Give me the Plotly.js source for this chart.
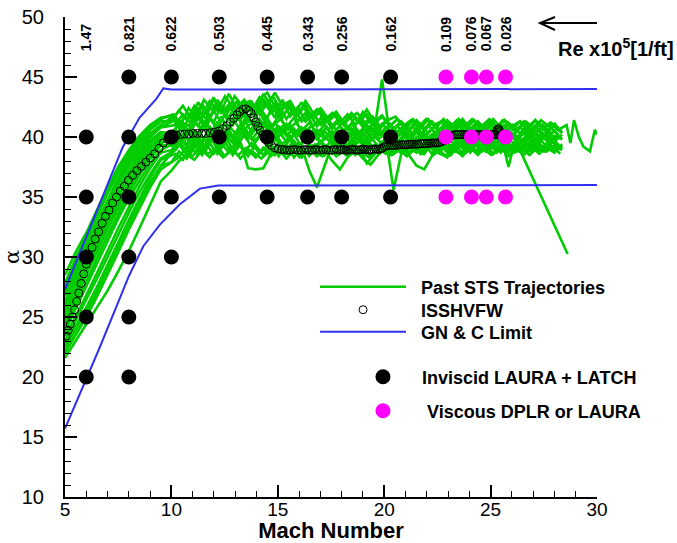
<!DOCTYPE html>
<html>
<head>
<meta charset="utf-8">
<script src="https://cdn.plot.ly/plotly-3.0.1.min.js"></script>
<style>
  html, body { margin: 0; padding: 0; background: #fff; }
  #chart { width: 677px; height: 543px; }
</style>
</head>
<body>
<div id="chart"></div>
<script>
// Mach stations used by the flight records
const machAscent = [5, 5.5, 6, 6.5, 7, 7.5, 8, 8.5, 9, 9.5];
const machGridA = [10, 10.36, 10.72, 11.08, 11.44, 11.8, 12.16, 12.52, 12.88, 13.24,
  13.6, 13.96, 14.32, 14.68, 15.04, 15.4, 15.76, 16.12, 16.48, 16.84,
  17.2, 17.56, 17.92, 18.28, 18.64, 19.0, 19.36, 19.72, 20.08, 20.44,
  20.8, 21.16, 21.52, 21.88, 22.24, 22.6, 22.96, 23.32, 23.68, 24.04,
  24.4, 24.76, 25.12, 25.48, 25.84, 26.2, 26.56, 26.92, 27.28, 27.64, 28.0, 28.36];
const machGridB = [10.18, 10.54, 10.9, 11.26, 11.62, 11.98, 12.34, 12.7, 13.06, 13.42,
  13.78, 14.14, 14.5, 14.86, 15.22, 15.58, 15.94, 16.3, 16.66, 17.02,
  17.38, 17.74, 18.1, 18.46, 18.82, 19.18, 19.54, 19.9, 20.26, 20.62,
  20.98, 21.34, 21.7, 22.06, 22.42, 22.78, 23.14, 23.5, 23.86, 24.22,
  24.58, 24.94, 25.3, 25.66, 26.02, 26.38, 26.74, 27.1, 27.46, 27.82, 28.18];
const machGridC = [10.09, 10.45, 10.81, 11.17, 11.53, 11.89, 12.25, 12.61, 12.97, 13.33,
  13.69, 14.05, 14.41, 14.77, 15.13, 15.49, 15.85, 16.21, 16.57, 16.93,
  17.29, 17.65, 18.01, 18.37, 18.73, 19.09, 19.45, 19.81, 20.17, 20.53,
  20.89, 21.25, 21.61, 21.97, 22.33, 22.69, 23.05, 23.41, 23.77, 24.13,
  24.49, 24.85, 25.21, 25.57, 25.93, 26.29, 26.65, 27.01, 27.37, 27.73, 28.09];
const machGridD = [10.27, 10.63, 10.99, 11.35, 11.71, 12.07, 12.43, 12.79, 13.15, 13.51,
  13.87, 14.23, 14.59, 14.95, 15.31, 15.67, 16.03, 16.39, 16.75, 17.11,
  17.47, 17.83, 18.19, 18.55, 18.91, 19.27, 19.63, 19.99, 20.35, 20.71,
  21.07, 21.43, 21.79, 22.15, 22.51, 22.87, 23.23, 23.59, 23.95, 24.31,
  24.67, 25.03, 25.39, 25.75, 26.11, 26.47, 26.83, 27.19, 27.55, 27.91, 28.27];

// Past STS angle-of-attack histories (ascent stations, then the grid)
const sts01 = [27.5, 29.6, 31.4, 33.4, 35.3, 37.0, 38.4, 39.6, 40.6, 41.3,
  41.3, 42.2, 41.4, 42.6, 41.8, 43.0, 42.2, 43.4, 42.5, 41.8,
  42.9, 42.0, 43.6, 42.6, 41.7, 42.8, 41.9, 42.9, 41.6, 42.3,
  41.4, 42.0, 41.2, 41.9, 41.0, 42.1, 41.2, 40.6, 41.4, 40.7,
  41.3, 40.6, 41.4, 40.7, 41.3, 40.6, 41.4, 40.8, 41.5, 40.7,
  41.3, 40.6, 41.5, 40.8, 41.2, 40.5, 41.3, 40.6, 41.2, 40.5, 41.1, 40.4];
const sts02 = [26.8, 28.9, 30.8, 32.7, 34.6, 36.3, 37.8, 39.0, 40.0, 40.8,
  41.0, 41.9, 41.2, 42.4, 41.5, 43.2, 42.1, 43.6, 42.4, 43.1,
  42.2, 43.3, 42.5, 43.7, 42.6, 43.0, 41.9, 42.6, 41.5, 42.2,
  41.3, 41.9, 41.0, 41.8, 41.2, 42.3, 41.3, 41.8, 40.9, 41.5,
  40.6, 41.4, 40.7, 41.5, 40.8, 41.4, 40.6, 41.5, 40.7, 41.4,
  40.6, 41.3, 40.7, 41.4, 40.6, 41.3, 40.5, 41.4, 40.6, 41.2, 40.7];
const sts03 = [26.0, 28.2, 30.3, 32.2, 34.0, 35.7, 37.2, 38.6, 39.7, 40.4,
  40.3, 41.1, 40.2, 41.3, 40.5, 41.6, 40.6, 42.0, 41.0, 42.2,
  41.3, 42.6, 41.5, 40.7, 41.8, 40.8, 41.6, 40.5, 41.2, 40.3,
  41.0, 40.2, 40.9, 40.1, 40.8, 40.0, 40.9, 40.1, 40.8, 40.0,
  40.7, 39.9, 40.8, 40.0, 40.7, 39.9, 40.6, 40.0, 40.8, 39.9,
  40.7, 40.0, 40.8, 39.9, 40.6, 39.8, 40.7, 40.0, 40.6, 39.9, 40.5, 39.8];
const sts04 = [25.3, 27.5, 29.6, 31.5, 33.3, 35.0, 36.6, 38.0, 39.2, 40.0,
  40.1, 41.0, 40.4, 41.6, 40.7, 42.2, 41.2, 42.7, 41.4, 42.0,
  41.1, 42.4, 41.6, 42.9, 41.8, 42.5, 41.3, 42.0, 40.9, 41.6,
  40.6, 41.3, 40.5, 41.1, 40.4, 41.0, 40.3, 41.1, 40.4, 40.9,
  40.2, 40.9, 40.1, 41.0, 40.3, 40.9, 40.2, 41.0, 40.2, 40.9,
  40.1, 40.8, 40.2, 40.9, 40.1, 40.8, 40.2, 40.9, 40.1, 40.8, 40.2];
const sts05 = [24.6, 26.8, 28.9, 30.8, 32.6, 34.3, 35.9, 37.4, 38.7, 39.6,
  39.6, 40.4, 39.3, 40.6, 39.5, 40.9, 39.8, 41.2, 40.0, 41.0,
  40.1, 41.3, 40.2, 39.4, 40.5, 39.6, 40.2, 39.2, 37.2, 35.8,
  37.6, 39.4, 40.0, 39.2, 40.1, 39.3, 40.0, 39.2, 39.9, 39.1,
  39.9, 39.2, 40.0, 39.1, 39.8, 39.2, 40.0, 39.3, 39.9, 39.1,
  39.8, 39.2, 40.0, 39.1, 39.9, 39.2, 39.8, 39.1, 39.9, 39.2, 39.7, 39.0];
const sts06 = [24.0, 26.0, 28.0, 29.9, 31.8, 33.6, 35.3, 36.8, 38.2, 39.3,
  39.3, 40.2, 39.5, 40.4, 39.6, 40.7, 39.8, 40.9, 40.2, 41.4,
  40.4, 41.5, 40.6, 41.2, 40.3, 41.0, 40.1, 40.7, 39.8, 40.5,
  39.7, 40.4, 39.6, 40.3, 39.7, 40.4, 40.6, 44.8, 40.2, 39.6,
  40.3, 39.5, 40.2, 39.6, 40.3, 39.5, 40.2, 39.6, 40.4, 39.5,
  40.2, 39.6, 40.3, 39.5, 40.1, 39.6, 40.2, 39.5, 40.3, 39.6, 40.1];
const sts07 = [23.4, 25.0, 26.8, 28.6, 30.5, 32.4, 34.2, 35.9, 37.4, 38.7,
  38.9, 39.8, 38.7, 39.9, 38.8, 40.1, 39.0, 40.2, 38.9, 39.6,
  37.4, 37.3, 37.4, 38.6, 39.5, 38.7, 39.6, 38.6, 39.4, 38.5,
  39.3, 38.6, 39.4, 38.5, 39.3, 38.6, 39.4, 38.7, 39.5, 38.6,
  39.4, 38.7, 39.5, 38.6, 39.4, 38.7, 39.5, 38.8, 39.6, 38.7,
  39.5, 38.8, 39.6, 38.7, 39.5, 38.8, 39.4, 38.7, 39.5, 38.8, 39.3, 38.9];
const sts08 = [22.7, 24.2, 25.8, 27.5, 29.3, 31.2, 33.1, 34.9, 36.6, 38.1,
  38.6, 38.1, 39.2, 38.5, 39.4, 38.6, 39.5, 38.7, 39.6, 38.8,
  39.5, 38.6, 39.3, 38.5, 39.4, 38.6, 39.5, 38.7, 39.3, 38.5,
  39.2, 38.4, 39.3, 38.6, 39.2, 37.8, 38.6, 39.3, 38.5, 39.4,
  38.7, 39.5, 38.6, 39.4, 38.7, 39.3, 38.5, 39.4, 38.7, 39.5,
  38.8, 39.4, 38.7, 39.5, 38.8, 39.3, 38.7, 39.4, 38.8, 39.3, 38.9];
const sts09 = [21.6, 23.0, 24.3, 25.7, 27.2, 28.8, 30.5, 32.4, 34.4, 36.3,
  37.2, 38.0, 38.5, 38.1, 38.9, 38.3, 39.2, 38.4, 39.0, 38.2,
  38.9, 38.3, 39.1, 38.4, 39.0, 38.2, 38.9, 38.3, 39.0, 38.4,
  38.9, 38.0, 37.3, 38.3, 38.9, 38.2, 37.7, 38.5, 39.1, 38.6,
  39.2, 38.5, 37.6, 37.3, 38.4, 38.9, 38.3, 39.0, 38.4, 39.1,
  38.5, 39.2, 38.6, 39.1, 38.4, 39.0, 38.5, 39.2, 38.6, 39.1, 38.7, 39.3];
const sts10 = [28.5, 30.4, 32.0, 33.9, 35.8, 37.5, 38.9, 40.1, 41.0, 41.6,
  41.8, 42.6, 41.6, 42.9, 41.9, 43.3, 42.0, 42.7, 41.8, 42.9,
  42.1, 43.2, 43.7, 42.6, 41.6, 42.7, 41.8, 43.0, 42.0, 42.4,
  41.5, 42.1, 41.2, 42.0, 41.3, 41.9, 41.1, 41.7, 40.9, 41.5,
  40.8, 41.5, 40.9, 41.4, 40.8, 41.5, 40.9, 41.3, 40.8, 41.4,
  40.9, 41.5, 40.8, 41.4, 40.9, 41.3, 40.8, 41.4, 40.7, 41.2, 40.6];
const sts10TailMach = [28.57, 28.75, 28.92, 29.15, 29.36, 29.67, 29.9, 30.0];
const sts10TailAlpha = [41.0, 39.5, 41.4, 40.0, 39.2, 38.8, 40.6, 40.2];
const sts11 = [22.2, 23.6, 25.2, 27.0, 28.8, 30.6, 32.4, 34.3, 36.0, 37.6,
  38.6, 39.4, 38.5, 39.6, 38.9, 40.0, 39.2, 40.3, 39.5, 40.6,
  39.8, 40.7, 39.9, 40.9, 40.0, 41.1, 40.2, 40.8, 39.9, 40.6,
  39.8, 40.5, 39.7, 40.4, 39.6, 40.3, 39.7, 40.4, 39.9, 35.6,
  38.6, 40.2, 39.5, 40.3, 39.6, 40.4, 39.5, 40.2, 39.4, 40.3,
  39.6, 40.4, 39.5, 40.2, 37.5, 40.1, 39.4, 40.2, 39.5, 40.3, 39.6, 40.2];
const sts12 = [25.6, 27.9, 30.0, 31.9, 33.7, 35.4, 36.9, 38.3, 39.5, 40.3,
  39.0, 39.9, 38.8, 40.0, 39.1, 40.3, 39.4, 40.5, 39.6, 40.8,
  39.8, 40.6, 39.7, 40.3, 39.4, 40.1, 39.2, 39.9, 39.0, 39.7,
  38.9, 39.7, 38.8, 39.6, 38.9, 39.7, 38.8, 39.5, 38.9, 39.7,
  38.9, 39.6, 38.8, 39.7, 38.9, 39.6, 38.8, 39.7, 38.9, 39.6,
  38.8, 39.6, 38.9, 39.7, 38.8, 38.9];
const sts12TailMach = [28.62];
const sts12TailAlpha = [30.25];
const sts13 = [24.3, 26.4, 28.5, 30.4, 32.3, 34.0, 35.6, 37.1, 38.4, 39.4,
  40.2, 39.4, 40.6, 39.7, 41.0, 40.0, 41.3, 40.3, 41.5, 40.6,
  41.7, 40.8, 41.2, 40.4, 40.9, 40.1, 40.7, 39.9, 40.6, 39.8,
  40.5, 39.7, 40.4, 39.8, 40.5, 39.7, 40.3, 39.8, 40.4, 39.7,
  40.3, 39.6, 40.4, 39.7, 40.2, 39.6, 40.3, 39.7, 40.4, 39.6,
  40.3, 39.7, 40.4, 39.6, 40.2, 39.7, 40.3, 39.6, 40.2, 39.7, 40.1, 39.8];
const sts14 = [23.0, 24.7, 26.4, 28.2, 30.0, 31.9, 33.7, 35.4, 36.9, 38.2,
  38.9, 39.7, 38.6, 39.8, 38.9, 40.0, 39.1, 40.4, 39.3, 40.1,
  39.2, 40.0, 39.3, 39.9, 39.0, 39.8, 38.9, 39.9, 38.8, 39.6,
  38.7, 39.5, 38.9, 39.8, 39.0, 39.7, 38.8, 39.6, 39.0, 39.8,
  39.1, 39.9, 39.0, 39.8, 39.1, 40.0, 39.2, 39.9, 39.0, 39.8,
  39.1, 39.9, 39.0, 39.8, 39.2, 39.9, 39.1, 39.8, 39.0, 39.7, 39.2];
const sts15 = [27.0, 29.1, 31.0, 32.9, 34.8, 36.6, 38.1, 39.3, 40.3, 41.0,
  41.6, 40.8, 42.0, 41.2, 42.8, 41.5, 43.1, 41.8, 42.6, 41.4,
  42.5, 41.6, 43.2, 42.0, 42.7, 41.5, 42.4, 41.3, 42.0, 40.9,
  41.6, 40.7, 41.5, 40.6, 41.7, 40.8, 41.4, 40.5, 41.3, 40.6,
  41.2, 40.4, 41.3, 40.5, 41.2, 40.3, 41.1, 40.4, 41.2, 40.3,
  41.1, 40.4, 41.2, 40.3, 41.0, 40.4, 41.1, 40.3, 41.0, 40.4, 40.9, 40.3];
const sts16 = [25.0, 27.2, 29.2, 31.1, 32.9, 34.6, 36.2, 37.7, 38.9, 39.8,
  40.6, 39.7, 40.8, 39.9, 41.3, 40.2, 41.7, 40.5, 41.9, 40.6,
  41.2, 40.3, 41.6, 40.4, 40.9, 39.8, 40.6, 39.6, 40.5, 39.5,
  40.3, 39.4, 40.2, 39.5, 40.4, 39.3, 40.1, 39.4, 40.2, 39.3,
  40.1, 39.3, 40.2, 39.4, 40.1, 39.3, 40.2, 39.4, 40.1, 39.3,
  40.2, 39.4, 40.1, 39.3, 40.2, 39.4, 40.0, 39.3, 40.1, 39.4, 40.0];
const sts17 = [22.5, 24.0, 25.6, 27.3, 29.1, 31.0, 32.8, 34.6, 36.2, 37.6,
  37.9, 38.8, 38.2, 39.3, 38.5, 39.5, 38.6, 39.6, 38.5, 39.4,
  38.4, 39.3, 38.5, 39.4, 38.4, 39.3, 38.3, 39.2, 38.4, 39.3,
  38.5, 39.4, 38.6, 39.3, 38.5, 39.2, 38.4, 39.3, 38.6, 39.4,
  38.6, 39.3, 38.7, 39.5, 38.6, 39.4, 38.7, 39.5, 38.6, 39.4,
  38.7, 39.5, 38.6, 39.4, 38.7, 39.5, 38.8, 39.4, 38.7, 39.5, 38.8, 39.4];
const sts18 = [26.3, 28.5, 30.5, 32.5, 34.4, 36.1, 37.6, 38.9, 40.0, 40.8,
  41.4, 40.5, 41.9, 40.9, 42.3, 41.2, 42.6, 41.4, 43.0, 41.7,
  42.9, 41.9, 42.8, 41.6, 43.1, 41.7, 42.5, 41.3, 42.0, 41.0,
  41.4, 40.6, 41.3, 40.4, 41.5, 40.6, 41.2, 40.3, 41.1, 40.4,
  41.0, 40.2, 41.1, 40.3, 41.0, 40.2, 41.1, 40.3, 40.9, 40.2,
  41.0, 40.3, 40.9, 40.2, 41.0, 40.3, 40.9, 40.2, 41.0, 40.3, 40.8];
const sts19 = [25.8, 27.9, 29.9, 31.8, 33.6, 35.3, 36.8, 38.1, 39.2, 40.0,
  40.4, 41.3, 40.9, 42.1, 41.2, 41.9, 42.6, 41.5, 42.3, 41.1,
  41.8, 42.7, 41.6, 40.9, 41.5, 40.6, 41.2, 40.4, 40.9, 40.2,
  40.8, 39.9, 40.5, 40.9, 40.1, 40.6, 39.8, 40.4, 40.7, 39.9,
  40.5, 40.0, 40.6, 39.8, 40.3, 40.7, 39.9, 40.4, 39.7, 40.5,
  40.1, 39.7, 40.6, 39.9, 40.4, 40.0, 39.6, 40.5, 39.8, 40.3, 39.9];
const sts20 = [23.8, 25.7, 27.6, 29.5, 31.4, 33.2, 34.9, 36.4, 37.8, 38.9,
  39.6, 38.9, 40.1, 39.3, 40.4, 39.6, 39.2, 40.3, 39.5, 40.6,
  39.7, 40.2, 39.3, 39.9, 38.8, 39.5, 39.1, 38.6, 39.4, 38.9,
  39.6, 39.0, 38.5, 39.3, 39.7, 38.9, 39.4, 38.7, 39.5, 39.0,
  39.6, 38.8, 39.3, 39.8, 39.1, 39.5, 38.9, 39.6, 39.2, 38.8,
  39.5, 39.1, 39.7, 38.9, 39.4, 39.0, 39.6, 38.9, 39.3, 39.7, 39.1];
const sts21 = [27.8, 29.9, 31.7, 33.6, 35.5, 37.2, 38.6, 39.8, 40.8, 41.5,
  41.9, 41.1, 42.4, 41.6, 43.1, 42.3, 42.9, 41.9, 43.4, 42.6,
  43.0, 42.2, 42.8, 43.4, 42.3, 42.9, 41.8, 42.5, 41.6, 42.1,
  41.3, 41.9, 41.1, 41.6, 42.0, 41.2, 41.7, 40.9, 41.4, 41.7,
  40.9, 41.4, 40.8, 41.5, 41.0, 41.3, 40.7, 41.4, 40.9, 41.5,
  40.8, 41.2, 40.7, 41.4, 41.0, 40.7, 41.3, 40.8, 41.4, 40.9, 41.1];
const sts22 = [22.0, 23.5, 25.0, 26.7, 28.5, 30.4, 32.3, 34.1, 35.8, 37.3,
  38.2, 38.9, 38.4, 39.2, 38.6, 39.0, 38.3, 38.9, 38.5, 39.1,
  38.7, 38.2, 38.8, 39.2, 38.5, 38.9, 38.3, 38.8, 39.1, 38.4,
  38.9, 38.5, 39.2, 38.6, 38.9, 38.3, 38.8, 39.1, 38.5, 38.9,
  38.4, 39.0, 38.6, 39.2, 38.7, 38.4, 38.9, 38.6, 39.2, 38.7,
  39.0, 38.5, 38.9, 39.3, 38.7, 39.0, 38.5, 39.1, 38.8, 39.2, 38.6];

// ISSHVFW design trajectory
const issMach = [5.05, 5.15, 5.25, 5.35, 5.45, 5.55, 5.65, 5.76, 5.88, 6.0,
  6.13, 6.27, 6.42, 6.58, 6.74, 6.9, 7.07, 7.24, 7.42, 7.6,
  7.79, 7.98, 8.18, 8.38, 8.59, 8.8, 9.01, 9.22, 9.42, 9.62,
  9.82, 10.02, 10.22, 10.42, 10.62, 10.82, 11.02, 11.22, 11.42, 11.62,
  11.82, 12.02, 12.22, 12.42, 12.6, 12.77, 12.93, 13.08, 13.22, 13.36,
  13.5, 13.63, 13.75, 13.86, 13.96, 14.06, 14.17, 14.29, 14.42, 14.56,
  14.7, 14.86, 15.02, 15.18, 15.31, 15.44, 15.57, 15.7, 15.83, 15.96,
  16.09, 16.22, 16.35, 16.48, 16.61, 16.74, 16.87, 17.0, 17.13, 17.26,
  17.39, 17.52, 17.65, 17.78, 17.91,
  18.0, 18.1, 18.2, 18.3, 18.4, 18.5, 18.6, 18.7, 18.8, 18.9,
  19.0, 19.1, 19.2, 19.3, 19.4, 19.5, 19.6, 19.7, 19.8, 19.9,
  20.0, 20.1, 20.2, 20.3, 20.4, 20.5, 20.6, 20.7, 20.8, 20.9,
  21.0, 21.1, 21.2, 21.3, 21.4, 21.5, 21.6, 21.7, 21.8, 21.9,
  22.0, 22.1, 22.2, 22.3, 22.4, 22.5, 22.6, 22.7,
  22.8, 22.9, 23.0, 23.1, 23.2, 23.3, 23.4,
  23.5, 23.6, 23.7, 23.8, 23.9, 24.0, 24.1, 24.2, 24.3, 24.4,
  24.5, 24.6, 24.7, 24.8, 24.9, 25.0, 25.1, 25.2, 25.3, 25.4, 25.5,
  25.42, 25.36, 25.3, 25.34, 25.4];
const issAlpha = [23.4, 23.9, 24.4, 25.0, 25.6, 26.3, 27.0, 27.8, 28.6, 29.4,
  30.1, 30.8, 31.5, 32.1, 32.8, 33.4, 33.9, 34.5, 35.0, 35.5,
  35.9, 36.4, 36.8, 37.2, 37.55, 37.9, 38.25, 38.6, 39.05, 39.5,
  39.8, 40.0, 40.15, 40.2, 40.25, 40.25, 40.3, 40.3, 40.3, 40.3,
  40.35, 40.4, 40.5, 40.7, 40.95, 41.25, 41.55, 41.85, 42.1, 42.3,
  42.35, 42.2, 41.95, 41.6, 41.25, 40.9, 40.55, 40.2, 39.85, 39.55,
  39.3, 39.1, 39.0, 38.95, 38.95, 38.9, 38.9, 38.95, 38.95, 38.9,
  38.9, 38.95, 38.95, 38.9, 38.9, 38.95, 38.95, 38.9, 38.95, 38.95,
  38.9, 38.9, 38.95, 38.95, 38.9,
  38.95, 38.95, 38.9, 38.9, 38.95, 39.0, 38.95, 38.9, 38.9, 38.95,
  39.0, 38.95, 38.95, 38.9, 38.95, 39.0, 39.0, 38.95, 39.0, 39.05,
  39.2, 39.25, 39.3, 39.3, 39.3, 39.3, 39.3, 39.35, 39.35, 39.35,
  39.35, 39.35, 39.4, 39.4, 39.4, 39.4, 39.4, 39.45, 39.45, 39.45,
  39.45, 39.45, 39.5, 39.5, 39.5, 39.5, 39.55, 39.6,
  39.7, 39.85, 40.0, 40.1, 40.15, 40.2, 40.2,
  40.2, 40.2, 40.2, 40.2, 40.2, 40.2, 40.2, 40.2, 40.2, 40.2,
  40.2, 40.2, 40.2, 40.2, 40.2, 40.2, 40.2, 40.2, 40.2, 40.15, 40.1,
  40.45, 40.7, 40.55, 40.35, 40.6];

// Guidance, navigation and control limits
const gncUpperMach = [5, 7.7, 8.5, 9.3, 9.62, 10.0, 30];
const gncUpperAlpha = [27.3, 39.1, 41.6, 43.2, 44.05, 43.95, 44.0];
const gncLowerMach = [5, 6.64, 8.0, 8.68, 9.46, 10.4, 11.34, 12.2, 30];
const gncLowerAlpha = [15.7, 22.5, 28.4, 30.9, 32.7, 34.4, 35.7, 35.95, 36.0];

// CFD solution points: Mach stations and the angles run at each
const invMach = [6, 8, 10, 12.25, 14.5, 16.4, 18, 20.3];
const invAlphaSets = [[40, 35, 30, 25, 20], [45, 40, 35, 30, 25, 20], [45, 40, 35, 30],
  [45, 40, 35], [45, 40, 35], [45, 40, 35], [45, 40, 35], [45, 40, 35]];
const visMach = [22.9, 24.1, 24.8, 25.7];
const visAlphaSets = [[45, 40, 35], [45, 40, 35], [45, 40, 35], [45, 40, 35]];

// Free-stream Reynolds number at each CFD Mach station
const reMach = [6, 8, 10, 12.25, 14.5, 16.4, 18, 20.3, 22.9, 24.1, 24.8, 25.7];
const reLabels = ['1.47', '0.821', '0.622', '0.503', '0.445', '0.343', '0.256', '0.162',
  '0.109', '0.076', '0.067', '0.026'];

const FONT = 'Liberation Sans, Arial, Helvetica, sans-serif';
const GREEN = '#00cc00';
const BLUE = '#3030f0';
const NB = '\u00a0';

const stsRecords = [
  [sts01, machGridA], [sts02, machGridB], [sts03, machGridA], [sts04, machGridB],
  [sts05, machGridA], [sts06, machGridB], [sts07, machGridA], [sts08, machGridB],
  [sts09, machGridA], [sts10, machGridB, sts10TailMach, sts10TailAlpha],
  [sts11, machGridA], [sts12, machGridB, sts12TailMach, sts12TailAlpha],
  [sts13, machGridA], [sts14, machGridB], [sts15, machGridA], [sts16, machGridB],
  [sts17, machGridA], [sts18, machGridB], [sts19, machGridC], [sts20, machGridD],
  [sts21, machGridC], [sts22, machGridD]
];

const traces = [];
stsRecords.forEach(function (rec, i) {
  const alpha = rec[0];
  let x = machAscent.concat(rec[1]).slice(0, alpha.length);
  let y = alpha.slice();
  if (rec[2]) { x = x.concat(rec[2]); y = y.concat(rec[3]); }
  traces.push({
    type: 'scatter', mode: 'lines', x: x, y: y,
    line: { color: GREEN, width: 2.6 },
    name: NB + NB + 'Past STS Trajectories',
    showlegend: i === 0, legend: 'legend', hoverinfo: 'skip'
  });
});

traces.push({
  type: 'scatter', mode: 'markers', x: issMach, y: issAlpha,
  marker: { symbol: 'circle-open', size: 8, color: '#000', line: { width: 1, color: '#000' } },
  name: NB + NB + 'ISSHVFW', legend: 'legend2'
});

traces.push({
  type: 'scatter', mode: 'lines', x: gncUpperMach, y: gncUpperAlpha,
  line: { color: BLUE, width: 2 }, name: NB + NB + 'GN & C Limit', legend: 'legend3'
});
traces.push({
  type: 'scatter', mode: 'lines', x: gncLowerMach, y: gncLowerAlpha,
  line: { color: BLUE, width: 2 }, name: 'GN & C Limit', showlegend: false, legend: 'legend3'
});

function flatten(machs, sets) {
  const xs = [], ys = [];
  machs.forEach(function (m, i) {
    sets[i].forEach(function (a) { xs.push(m); ys.push(a); });
  });
  return [xs, ys];
}
const inv = flatten(invMach, invAlphaSets);
const vis = flatten(visMach, visAlphaSets);

traces.push({
  type: 'scatter', mode: 'markers', x: inv[0], y: inv[1],
  marker: { symbol: 'circle', size: 15, color: '#000' },
  name: 'Inviscid LAURA + LATCH', legend: 'legend4'
});
traces.push({
  type: 'scatter', mode: 'markers', x: vis[0], y: vis[1],
  marker: { symbol: 'circle', size: 15, color: '#ff00ff' },
  name: NB + 'Viscous DPLR or LAURA', legend: 'legend5'
});

const annotations = reMach.map(function (m, i) {
  return {
    x: m, xref: 'x', y: 0.924, yref: 'paper', yanchor: 'bottom', xanchor: 'center',
    text: reLabels[i], textangle: -90, showarrow: false,
    font: { family: FONT, size: 14, weight: 'bold', color: '#000' }
  };
});
annotations.push({
  x: 1.1485, xref: 'paper', y: 0.9375, yref: 'paper', xanchor: 'right', yanchor: 'middle',
  text: 'Re x10<sup>5</sup>[1/ft]', showarrow: false,
  font: { family: FONT, size: 20, weight: 'bold', color: '#000' }
});

const legendFont = { family: FONT, size: 18, weight: 'bold', color: '#000' };
function legendAt(xp, yp, w) {
  return {
    x: xp, y: yp, xanchor: 'left', yanchor: 'middle', bgcolor: 'rgba(0,0,0,0)',
    borderwidth: 0, font: legendFont, itemwidth: w
  };
}

const layout = {
  width: 677, height: 543,
  margin: { l: 65, r: 80, t: 17, b: 46, pad: 0 },
  paper_bgcolor: '#fff', plot_bgcolor: '#fff',
  font: { family: FONT, color: '#000' },
  xaxis: {
    range: [5, 30], tick0: 5, dtick: 5, ticks: 'inside', ticklen: 12, tickwidth: 2,
    tickcolor: '#000', showline: true, linecolor: '#000', linewidth: 2,
    showgrid: false, zeroline: false, ticklabelstandoff: -6,
    tickfont: { family: FONT, size: 19, color: '#000' },
    minor: { dtick: 1, ticks: 'inside', ticklen: 6, tickwidth: 1, tickcolor: '#000', showgrid: false },
    title: { text: 'Mach Number', font: { family: FONT, size: 22, weight: 'bold', color: '#000' }, standoff: 2 }
  },
  yaxis: {
    range: [10, 50], tick0: 10, dtick: 5, ticks: 'inside', ticklen: 12, tickwidth: 2,
    tickcolor: '#000', showline: true, linecolor: '#000', linewidth: 2,
    showgrid: false, zeroline: false, ticklabelstandoff: 15,
    tickfont: { family: FONT, size: 20, color: '#000' },
    minor: { dtick: 1, ticks: 'inside', ticklen: 6, tickwidth: 1, tickcolor: '#000', showgrid: false },
    title: { text: 'α', font: { family: 'DejaVu Serif, serif', size: 21, color: '#000' }, standoff: 0 }
  },
  showlegend: true,
  legend: legendAt(0.47, 0.4375, 86),
  legend2: legendAt(0.47, 0.3896, 86),
  legend3: legendAt(0.47, 0.3438, 86),
  legend4: legendAt(0.5244, 0.25, 68),
  legend5: legendAt(0.5244, 0.1792, 68),
  annotations: annotations,
  shapes: [{
    type: 'path', xref: 'paper', yref: 'paper',
    path: 'M 1.0,0.9875 L 0.8929,0.9875 M 0.921,1.0 L 0.8929,0.9875 L 0.921,0.9729',
    line: { color: '#000', width: 2 }
  }]
};

Plotly.newPlot('chart', traces, layout, { staticPlot: true, displayModeBar: false });
</script>
</body>
</html>
